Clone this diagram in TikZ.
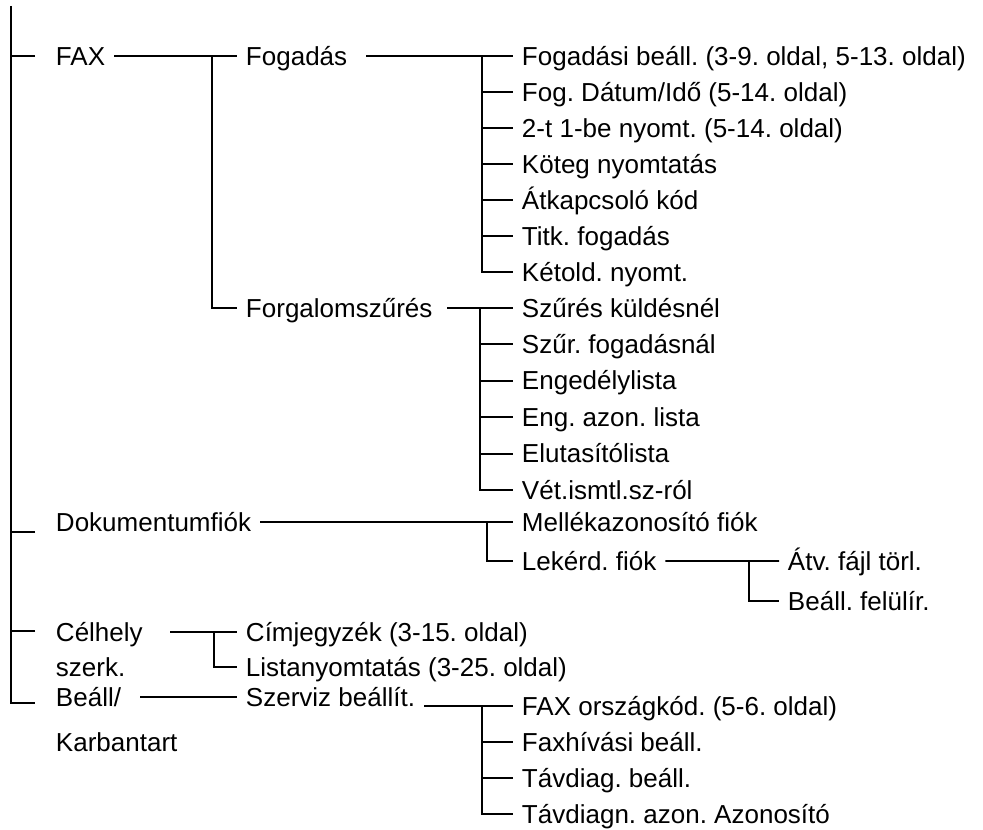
\documentclass[tikz,border=0pt]{standalone}
\usepackage{fontspec}
\setmainfont{Liberation Sans}
\usetikzlibrary{positioning}
\frenchspacing

\begin{document}
\begin{tikzpicture}[
      every node/.style={font=\fontsize{18.5}{24.9}\selectfont},
      item/.style={anchor=west, inner xsep=0.2cm, inner ysep=0pt,
        text height=0.5cm, text depth=0.05cm},
      group/.style={anchor=base west, inner xsep=0.2cm, inner ysep=0pt, align=left},
      line width=1.4pt,
  ]
      \useasboundingbox (0,0) rectangle (24.575,-20.725);

      % --- NIVEL 1 ---
      \node[item] (fax) at (1.175,-1.4) {FAX};
      \node[item] (dok) at (1.175,-13.05) {Dokumentumfiók};
      \node[group] (celhely) at (1.175,-16.9) {Célhely\\szerk.};
      \node[group] (beall) at (1.175,-18.775) {Beáll/\\[7pt]Karbantart};

      % --- NIVEL 2 ---
      \node[item] (fogadas) at (5.925,-1.4) {Fogadás};
      \node[item] (forgalom) at (5.925,-7.7) {Forgalomszűrés};
      \node[item] (cim) at (5.925,-15.8) {Címjegyzék (3-15. oldal)};
      \node[item, below=0.875cm of cim.west, anchor=west] (list) {Listanyomtatás (3-25. oldal)};
      \node[item] (szerviz) at (5.925,-17.425) {Szerviz beállít.};

      % --- FOGADÁS ---
      \node[item] (rcv1) at (12.825,-1.4) {Fogadási beáll. (3-9. oldal, 5-13. oldal)};
      \node[item, below=0.9cm of rcv1.west, anchor=west] (rcv2) {Fog. Dátum/Idő (5-14. oldal)};
      \node[item, below=0.9cm of rcv2.west, anchor=west] (rcv3) {2-t 1-be nyomt. (5-14. oldal)};
      \node[item, below=0.9cm of rcv3.west, anchor=west] (rcv4) {Köteg nyomtatás};
      \node[item, below=0.9cm of rcv4.west, anchor=west] (rcv5) {Átkapcsoló kód};
      \node[item, below=0.9cm of rcv5.west, anchor=west] (rcv6) {Titk. fogadás};
      \node[item, below=0.9cm of rcv6.west, anchor=west] (rcv7) {Kétold. nyomt.};

      % --- FORGALOMSZŰRÉS ---
      \node[item] (flt1) at (12.825,-7.7) {Szűrés küldésnél};
      \node[item, below=0.91cm of flt1.west, anchor=west] (flt2) {Szűr. fogadásnál};
      \node[item, below=0.91cm of flt2.west, anchor=west] (flt3) {Engedélylista};
      \node[item, below=0.91cm of flt3.west, anchor=west] (flt4) {Eng. azon. lista};
      \node[item, below=0.91cm of flt4.west, anchor=west] (flt5) {Elutasítólista};
      \node[item, below=0.91cm of flt5.west, anchor=west] (flt6) {Vét.ismtl.sz-ról};

      % --- DOKUMENTUMFIÓK ---
      \node[item] (mell) at (12.825,-13.05) {Mellékazonosító fiók};
      \node[item, below=0.975cm of mell.west, anchor=west] (lek) {Lekérd. fiók};
      \node[item] (atv) at (19.475,-14.025) {Átv. fájl törl.};
      \node[item, below=1.0cm of atv.west, anchor=west] (fel) {Beáll. felülír.};

      % --- SZERVIZ ---
      \node[item] (srv1) at (12.825,-17.65) {FAX országkód. (5-6. oldal)};
      \node[item, below=0.9cm of srv1.west, anchor=west] (srv2) {Faxhívási beáll.};
      \node[item, below=0.9cm of srv2.west, anchor=west] (srv3) {Távdiag. beáll.};
      \node[item, below=0.9cm of srv3.west, anchor=west] (srv4) {Távdiagn. azon. Azonosító};

      % Pontos de ramificação
      \coordinate (root) at (0.275,-0.15);
      \coordinate (jfax) at (5.3,0);
      \coordinate (jcel) at (5.35,0);
      \coordinate (jfog) at (12.05,0);
      \coordinate (jfor) at (12.0,0);
      \coordinate (jdok) at (12.175,0);
      \coordinate (jsrv) at (12.05,0);
      \coordinate (jlek) at (18.725,0);
      \coordinate (celend) at (4.25,-15.8);
      \coordinate (beallend) at (3.5,-17.425);

      % Tronco principal
      \draw (root) |- ([xshift=-0.3cm, yshift=1.2cm]beall.base west);
      \draw ([xshift=-0.3cm]fax.west) -- ++(-0.6,0);
      \draw ([xshift=-0.3cm, yshift=-0.25cm]dok.west) -- ++(-0.6,0);
      \draw ([xshift=-0.3cm, yshift=1.125cm]celhely.base west) -- ++(-0.6,0);

      % Nivel 2
      \draw (fax.east) -- (fogadas.west);
      \draw (jfax |- fax.east) |- (forgalom.west);
      \draw (celend) -- (cim.west);
      \draw (jcel |- cim.west) |- (list.west);
      \draw (beallend) -- (szerviz.west);

      % Fogadás
      \draw ([xshift=0.25cm]fogadas.east) -- (rcv1.west);
      \draw (jfog |- rcv1.west) |- (rcv7.west);
      \draw (jfog |- rcv2.west) -- (rcv2.west);
      \draw (jfog |- rcv3.west) -- (rcv3.west);
      \draw (jfog |- rcv4.west) -- (rcv4.west);
      \draw (jfog |- rcv5.west) -- (rcv5.west);
      \draw (jfog |- rcv6.west) -- (rcv6.west);

      % Forgalomszűrés
      \draw ([xshift=0.15cm]forgalom.east) -- (flt1.west);
      \draw (jfor |- flt1.west) |- (flt6.west);
      \draw (jfor |- flt2.west) -- (flt2.west);
      \draw (jfor |- flt3.west) -- (flt3.west);
      \draw (jfor |- flt4.west) -- (flt4.west);
      \draw (jfor |- flt5.west) -- (flt5.west);

      % Dokumentumfiók
      \draw (dok.east) -- (mell.west);
      \draw (jdok |- mell.west) |- (lek.west);
      \draw (lek.east) -- (atv.west);
      \draw (jlek |- atv.west) |- (fel.west);

      % Szerviz beállít.
      \draw (szerviz.east |- srv1.west) -- (srv1.west);
      \draw (jsrv |- srv1.west) |- (srv4.west);
      \draw (jsrv |- srv2.west) -- (srv2.west);
      \draw (jsrv |- srv3.west) -- (srv3.west);

  \end{tikzpicture}
\end{document}
